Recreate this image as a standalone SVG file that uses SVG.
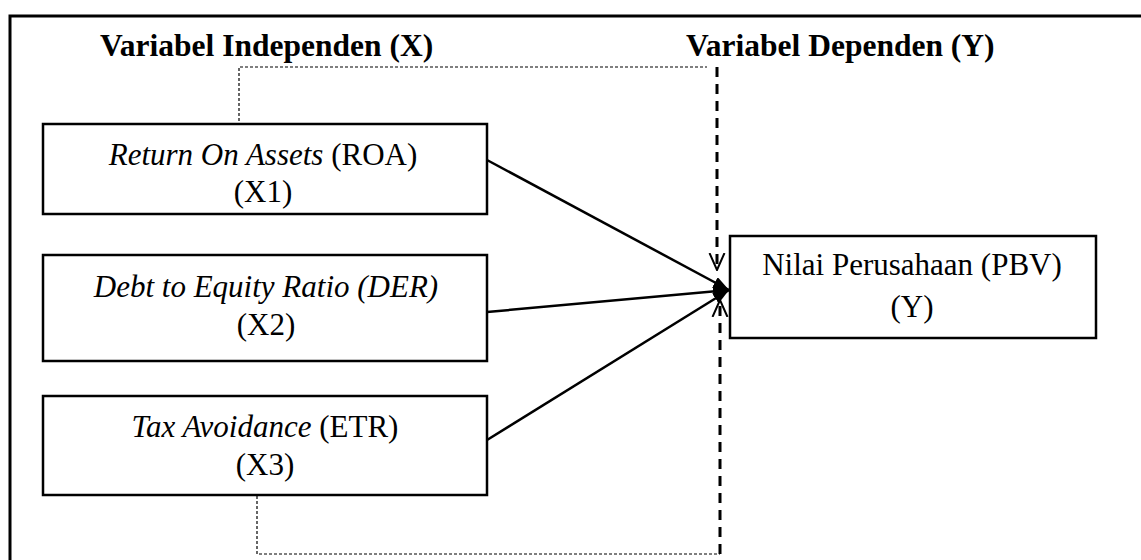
<svg xmlns="http://www.w3.org/2000/svg" width="1141" height="560" viewBox="0 0 1141 560">
<style>
.box{fill:#fff;stroke:#000;stroke-width:2.5}
.t{font-family:"Liberation Serif","Times New Roman",serif;font-size:31px;fill:#000;text-anchor:middle}
.h{font-family:"Liberation Serif","Times New Roman",serif;font-size:31.5px;font-weight:bold;fill:#000}
.solid{stroke:#000;stroke-width:2.5;fill:none}
.dot{stroke:#000;stroke-width:1.2;stroke-dasharray:3 2;fill:none}
.dash{stroke:#000;stroke-width:3;stroke-dasharray:10 7;fill:none}
</style>
<defs>
<marker id="fill" viewBox="0 0 16 12" refX="16" refY="6" markerWidth="16" markerHeight="12" markerUnits="userSpaceOnUse" orient="auto">
<path d="M0,0 L16,6 L0,12 Z" fill="#000"/>
</marker>
<marker id="open" viewBox="0 0 18 18" refX="17" refY="9" markerWidth="18" markerHeight="18" markerUnits="userSpaceOnUse" orient="auto">
<path d="M0,1.5 L17,9 L0,16.5" fill="none" stroke="#000" stroke-width="2"/>
</marker>
</defs>
<rect width="1141" height="560" fill="#fff"/>
<path d="M10,562 V16 H1143" fill="none" stroke="#000" stroke-width="3"/>
<text class="h" x="100" y="56">Variabel Independen (X)</text>
<text class="h" x="686" y="56">Variabel Dependen (Y)</text>
<g id="connectors">
<path class="dot" d="M239,131 V67 H707"/>
<path class="dot" d="M257,496 V554 H720"/>
<path class="dash" d="M717,67 V270" marker-end="url(#open)"/>
<path class="dash" d="M720,554 V300" marker-end="url(#open)"/>
<line class="solid" x1="487" y1="160" x2="729" y2="290" marker-end="url(#fill)"/>
<line class="solid" x1="487" y1="312" x2="729" y2="290" marker-end="url(#fill)"/>
<line class="solid" x1="487" y1="440" x2="729" y2="290" marker-end="url(#fill)"/>
</g>
<g id="roa">
<rect class="box" x="43" y="124" width="444" height="90"/>
<text class="t" x="263" y="165"><tspan font-style="italic">Return On Assets</tspan> (ROA)</text>
<text class="t" x="263" y="202">(X1)</text>
</g>
<g id="der">
<rect class="box" x="43" y="255" width="444" height="106"/>
<text class="t" x="266" y="297" font-style="italic">Debt to Equity Ratio (DER)</text>
<text class="t" x="266" y="335">(X2)</text>
</g>
<g id="etr">
<rect class="box" x="43" y="396" width="444" height="99"/>
<text class="t" x="265" y="437"><tspan font-style="italic">Tax Avoidance</tspan> (ETR)</text>
<text class="t" x="265" y="475">(X3)</text>
</g>
<g id="pbv">
<rect class="box" x="730" y="236" width="366" height="102"/>
<text class="t" x="912" y="275">Nilai Perusahaan (PBV)</text>
<text class="t" x="912" y="317">(Y)</text>
</g>
</svg>
